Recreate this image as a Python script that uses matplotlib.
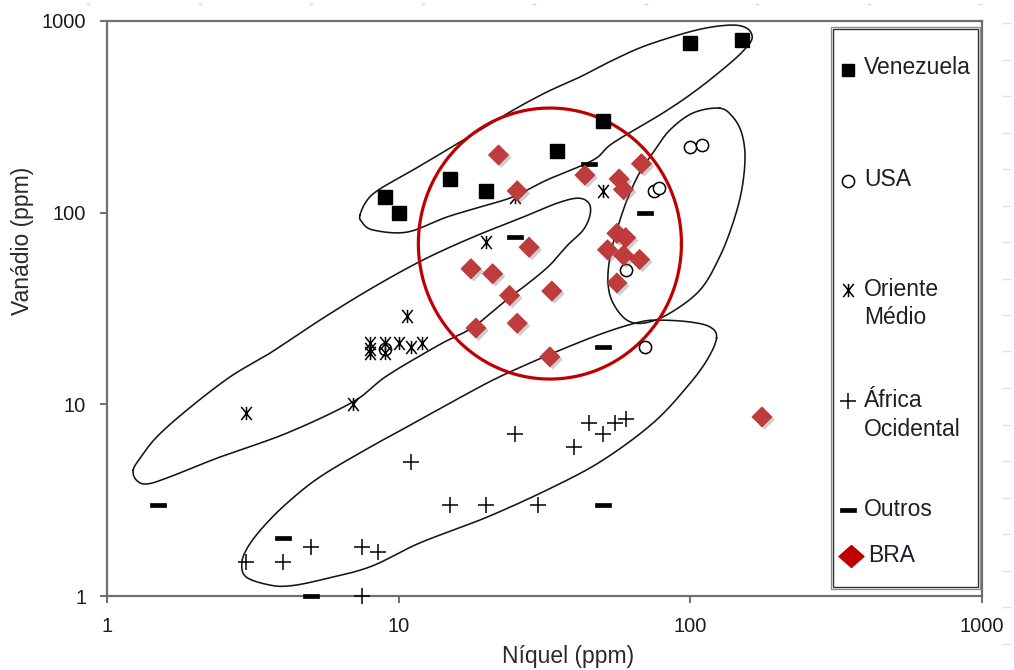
import numpy as np
import matplotlib
matplotlib.use("Agg")
import matplotlib.pyplot as plt
from matplotlib.path import Path
from matplotlib.patches import Rectangle
from matplotlib.lines import Line2D
import matplotlib.patheffects as pe

plt.rcParams['font.family'] = ['Liberation Sans', 'DejaVu Sans']

# ---- Ni / V contents (ppm) by crude origin ----
venezuela_ni = [9, 10, 15, 20, 35, 50, 100, 150]
venezuela_v = [120, 100, 150, 130, 210, 300, 770, 800]

usa_ni = [100, 110, 75, 78, 60, 70, 9]
usa_v = [220, 225, 130, 135, 50, 20, 19.5]

oriente_ni = [3, 7, 8, 8, 8, 9, 9, 10, 11, 12, 10.7, 20, 25, 50]
oriente_v = [9, 10, 18.5, 19.5, 21, 21, 18.5, 21, 20, 21, 29, 70, 120, 130]

africa_ni = [3, 4, 5, 7.5, 8.5, 7.5, 11, 15, 20, 30, 25, 40, 45, 50, 55, 60]
africa_v = [1.5, 1.5, 1.8, 1.8, 1.7, 1.0, 5, 3, 3, 3, 7, 6, 8, 7, 8, 8.4]

outros_ni = [1.5, 4, 5, 50, 50, 45, 70, 25]
outros_v = [3, 2, 1, 3, 20, 180, 100, 75]

bra_ni = [22, 25.5, 43.5, 57, 59, 68, 28, 17.7, 21, 52, 56, 60, 59, 67,
          56, 24, 33.5, 18.4, 25.5, 33, 176]
bra_v = [200, 130, 157, 150, 132, 180, 66, 51, 48, 64, 78, 74, 60, 57,
         43, 37, 39, 25, 26.5, 17.7, 8.6]

# ---- hand-drawn field outlines (Ni, V in ppm) ----
venezuela_field_ni = [7.37, 7.79, 8.63, 11.2, 14.6, 19.0, 24.7, 32.2, 41.8, 54.3,
                      71.0, 105, 137, 156, 163, 156, 137, 105, 80.5, 54.3,
                      46.4, 32.2, 24.7, 19.0, 14.6, 10.7, 8.17, 7.48]
venezuela_field_v = [97.2, 116, 133, 167, 212, 270, 343, 426, 510, 625,
                     748, 897, 952, 918, 824, 731, 603, 436, 331, 231,
                     188, 148, 121, 107, 94.8, 79.2, 81.2, 89.3]

oriente_field_ni = [1.23, 1.30, 1.48, 1.88, 2.64, 3.62, 5.37, 7.98, 12.1, 18.0,
                    26.7, 34.9, 41.2, 44.9, 45.3, 42.9, 38.0, 33.0, 28.2, 24.1,
                    18.0, 13.9, 9.12, 6.97, 4.14, 2.44, 1.64, 1.37, 1.26]
oriente_field_v = [4.54, 5.25, 6.75, 9.34, 13.9, 18.5, 27.5, 39.9, 56.6, 74.6,
                   94.8, 112, 119, 112, 97.2, 81.1, 67.8, 53.3, 43.5, 36.3,
                   25.3, 20.6, 14.1, 10.3, 7.08, 5.31, 4.18, 3.84, 4.03]

africa_field_ni = [123, 117, 99.7, 78.7, 67.2, 50.2, 33.8, 22.8, 17.6, 11.8,
                   7.98, 5.37, 4.14, 3.43, 3.04, 2.90, 3.00, 3.62, 4.24, 5.37,
                   7.98, 11.8, 20.1, 33.8, 50.2, 74.5, 97.3, 114]
africa_field_v = [22.2, 25.3, 26.9, 27.5, 26.9, 23.5, 18.5, 14.2, 11.6, 8.28,
                  5.98, 4.18, 3.05, 2.29, 1.80, 1.49, 1.256, 1.14, 1.13, 1.21,
                  1.42, 1.89, 2.58, 3.70, 5.12, 7.99, 12.3, 17.0]

usa_field_ni = [126, 102, 85.1, 75.6, 67.2, 60.6, 56.0, 53.0, 52.2, 54.3,
                60.6, 69.9, 85.1, 108, 126, 140, 150, 154, 150, 140]
usa_field_v = [351, 331, 270, 212, 163, 116, 81.1, 58.7, 42.9, 33.8,
               27.5, 26.6, 29.9, 39.5, 58.7, 88.3, 131, 195, 260, 315]

# red ring around the Brazilian samples: centre (ppm) and half-axes (decades)
ring_ni, ring_v = 33.0, 69.0
ring_rx, ring_ry = 0.451, 0.707

ticks = [1, 10, 100, 1000]
tick_labels = ["1", "10", "100", "1000"]

legend_labels = ["Venezuela", "USA", "Oriente\nMédio", "África\nOcidental", "Outros", "BRA"]


def smooth_closed(ni, v, n=30):
    """Closed Catmull-Rom curve through the outline vertices, in log space."""
    p = np.column_stack([np.log10(ni), np.log10(v)])
    m = len(p)
    t = np.linspace(0, 1, n, endpoint=False)[:, None]
    segs = []
    for i in range(m):
        p0, p1, p2, p3 = p[i - 1], p[i], p[(i + 1) % m], p[(i + 2) % m]
        segs.append(0.5 * (2 * p1 + (-p0 + p2) * t
                           + (2 * p0 - 5 * p1 + 4 * p2 - p3) * t ** 2
                           + (-p0 + 3 * p1 - 3 * p2 + p3) * t ** 3))
    segs.append(p[:1])
    c = np.vstack(segs)
    return 10 ** c[:, 0], 10 ** c[:, 1]


W, H = 1014, 670
fig = plt.figure(figsize=(W / 100, H / 100), dpi=100)
ax = fig.add_axes([107 / W, 1 - 596 / H, 875 / W, 575 / H])
ax.set_xscale('log')
ax.set_yscale('log')
ax.set_xlim(1, 1000)
ax.set_ylim(1, 1000)

# field outlines
for fni, fv in [(venezuela_field_ni, venezuela_field_v),
                (oriente_field_ni, oriente_field_v),
                (africa_field_ni, africa_field_v),
                (usa_field_ni, usa_field_v)]:
    cx, cy = smooth_closed(fni, fv)
    ax.plot(cx, cy, color='#151515', lw=1.15, zorder=2, solid_joinstyle='round')

# marker shapes
star = Path([(-0.8, -1), (0.8, 1), (-0.8, 1), (0.8, -1), (0, -1), (0, 1)],
            [Path.MOVETO, Path.LINETO, Path.MOVETO, Path.LINETO, Path.MOVETO, Path.LINETO])
bar = [(-1, -0.32), (1, -0.32), (1, 0.32), (-1, 0.32), (-1, -0.32)]
diamond = [(0, 1), (1, 0), (0, -1), (-1, 0), (0, 1)]
wide_diamond = [(0, 0.88), (1, 0), (0, -0.88), (-1, 0), (0, 0.88)]

styles = {
    'ven': dict(marker='s', ms=10, mfc='black', mec='black', ls='none'),
    'usa': dict(marker='o', ms=8.8, mfc='white', mec='black', mew=1.1, ls='none'),
    'ori': dict(marker=star, ms=9.5, mfc='none', mec='black', mew=1.1, ls='none'),
    'afr': dict(marker='+', ms=11.5, mec='black', mew=1.1, ls='none'),
    'out': dict(marker=bar, ms=11, mfc='black', mec='black', mew=0.5, ls='none'),
}

ax.plot(venezuela_ni, venezuela_v, zorder=4, clip_on=False, **styles['ven'])
ax.plot(usa_ni, usa_v, zorder=4, clip_on=False, **styles['usa'])
ax.plot(oriente_ni, oriente_v, zorder=4, clip_on=False, **styles['ori'])
ax.plot(africa_ni, africa_v, zorder=4, clip_on=False, **styles['afr'])
ax.plot(outros_ni, outros_v, zorder=4, clip_on=False, **styles['out'])

# red ring
t = np.linspace(0, 2 * np.pi, 500)
ax.plot(10 ** (np.log10(ring_ni) + ring_rx * np.cos(t)),
        10 ** (np.log10(ring_v) + ring_ry * np.sin(t)),
        color='#C00000', lw=2.3, zorder=3)

# Brazilian samples with a soft drop shadow
ax.plot(bra_ni, bra_v, marker=diamond, ms=14.5, mfc='#C03C3C', mec='#B33434', mew=0.5,
        ls='none', zorder=5,
        path_effects=[pe.SimplePatchShadow(offset=(2, -2), shadow_rgbFace='0.45', alpha=0.35),
                      pe.Normal()])

# axes styling
for s in ax.spines.values():
    s.set_color('#6f6f6f')
    s.set_linewidth(1.6)
ax.set_xticks(ticks)
ax.set_xticklabels(tick_labels)
ax.set_yticks(ticks)
ax.set_yticklabels(tick_labels)
ax.minorticks_off()
ax.tick_params(axis='both', which='major', direction='out', length=5, width=1.2,
               color='#555555', pad=10, labelsize=14.5, labelcolor='#1c1c1c')

fig.text(568 / W, 1 - 657 / H, "Níquel (ppm)", ha='center', va='center',
         fontsize=16.5, color='#2a2a2a')
fig.text(23 / W, 1 - 241 / H, "Vanádio (ppm)", ha='center', va='center',
         rotation=90, fontsize=16.5, color='#2a2a2a')


# legend box (placed in figure pixels)
def fx(px):
    return px / W


def fy(py):
    return 1 - py / H


fig.add_artist(Rectangle((fx(831), fy(589)), fx(980) - fx(831), fy(27) - fy(589),
                         transform=fig.transFigure, fill=False,
                         ec='#8a8a8a', lw=0.9, zorder=6))
fig.add_artist(Rectangle((fx(833), fy(587)), fx(978) - fx(833), fy(29) - fy(587),
                         transform=fig.transFigure, fill=False,
                         ec='#303030', lw=1.0, zorder=6))

legend_marker_y = [70, 181, 290, 401, 510, 556]
legend_text_y = [68, 180, 303.5, 415, 509, 555]
legend_styles = ['ven', 'usa', 'ori', 'afr', 'out', None]
for lab, my, ty, key in zip(legend_labels, legend_marker_y, legend_text_y, legend_styles):
    if key is None:
        fig.add_artist(Line2D([fx(851)], [fy(my)], marker=wide_diamond, ms=18,
                              mfc='#C00000', mec='#C00000', ls='none',
                              transform=fig.transFigure, zorder=7))
        tx = 868
    else:
        st = dict(styles[key])
        if key == 'ven':
            st['ms'] = 9
        fig.add_artist(Line2D([fx(848)], [fy(my)], transform=fig.transFigure,
                              zorder=7, **st))
        tx = 864
    fig.text(fx(tx), fy(ty), lab, ha='left', va='center', fontsize=16.5,
             color='#1e1e28', linespacing=1.28, zorder=7)

# faint page guides around the chart
for k in range(18):
    yy = 23 + k * 36.5
    fig.add_artist(Line2D([fx(1003), fx(1010)], [fy(yy), fy(yy)],
                          transform=fig.transFigure, color='#dedede', lw=1))
for k in range(9):
    xx = 88 + k * 111.5
    fig.add_artist(Line2D([fx(xx - 1), fx(xx + 1)], [fy(4), fy(4)],
                          transform=fig.transFigure, color='#d8d8d8', lw=1))

fig.savefig("out.png", dpi=100)
